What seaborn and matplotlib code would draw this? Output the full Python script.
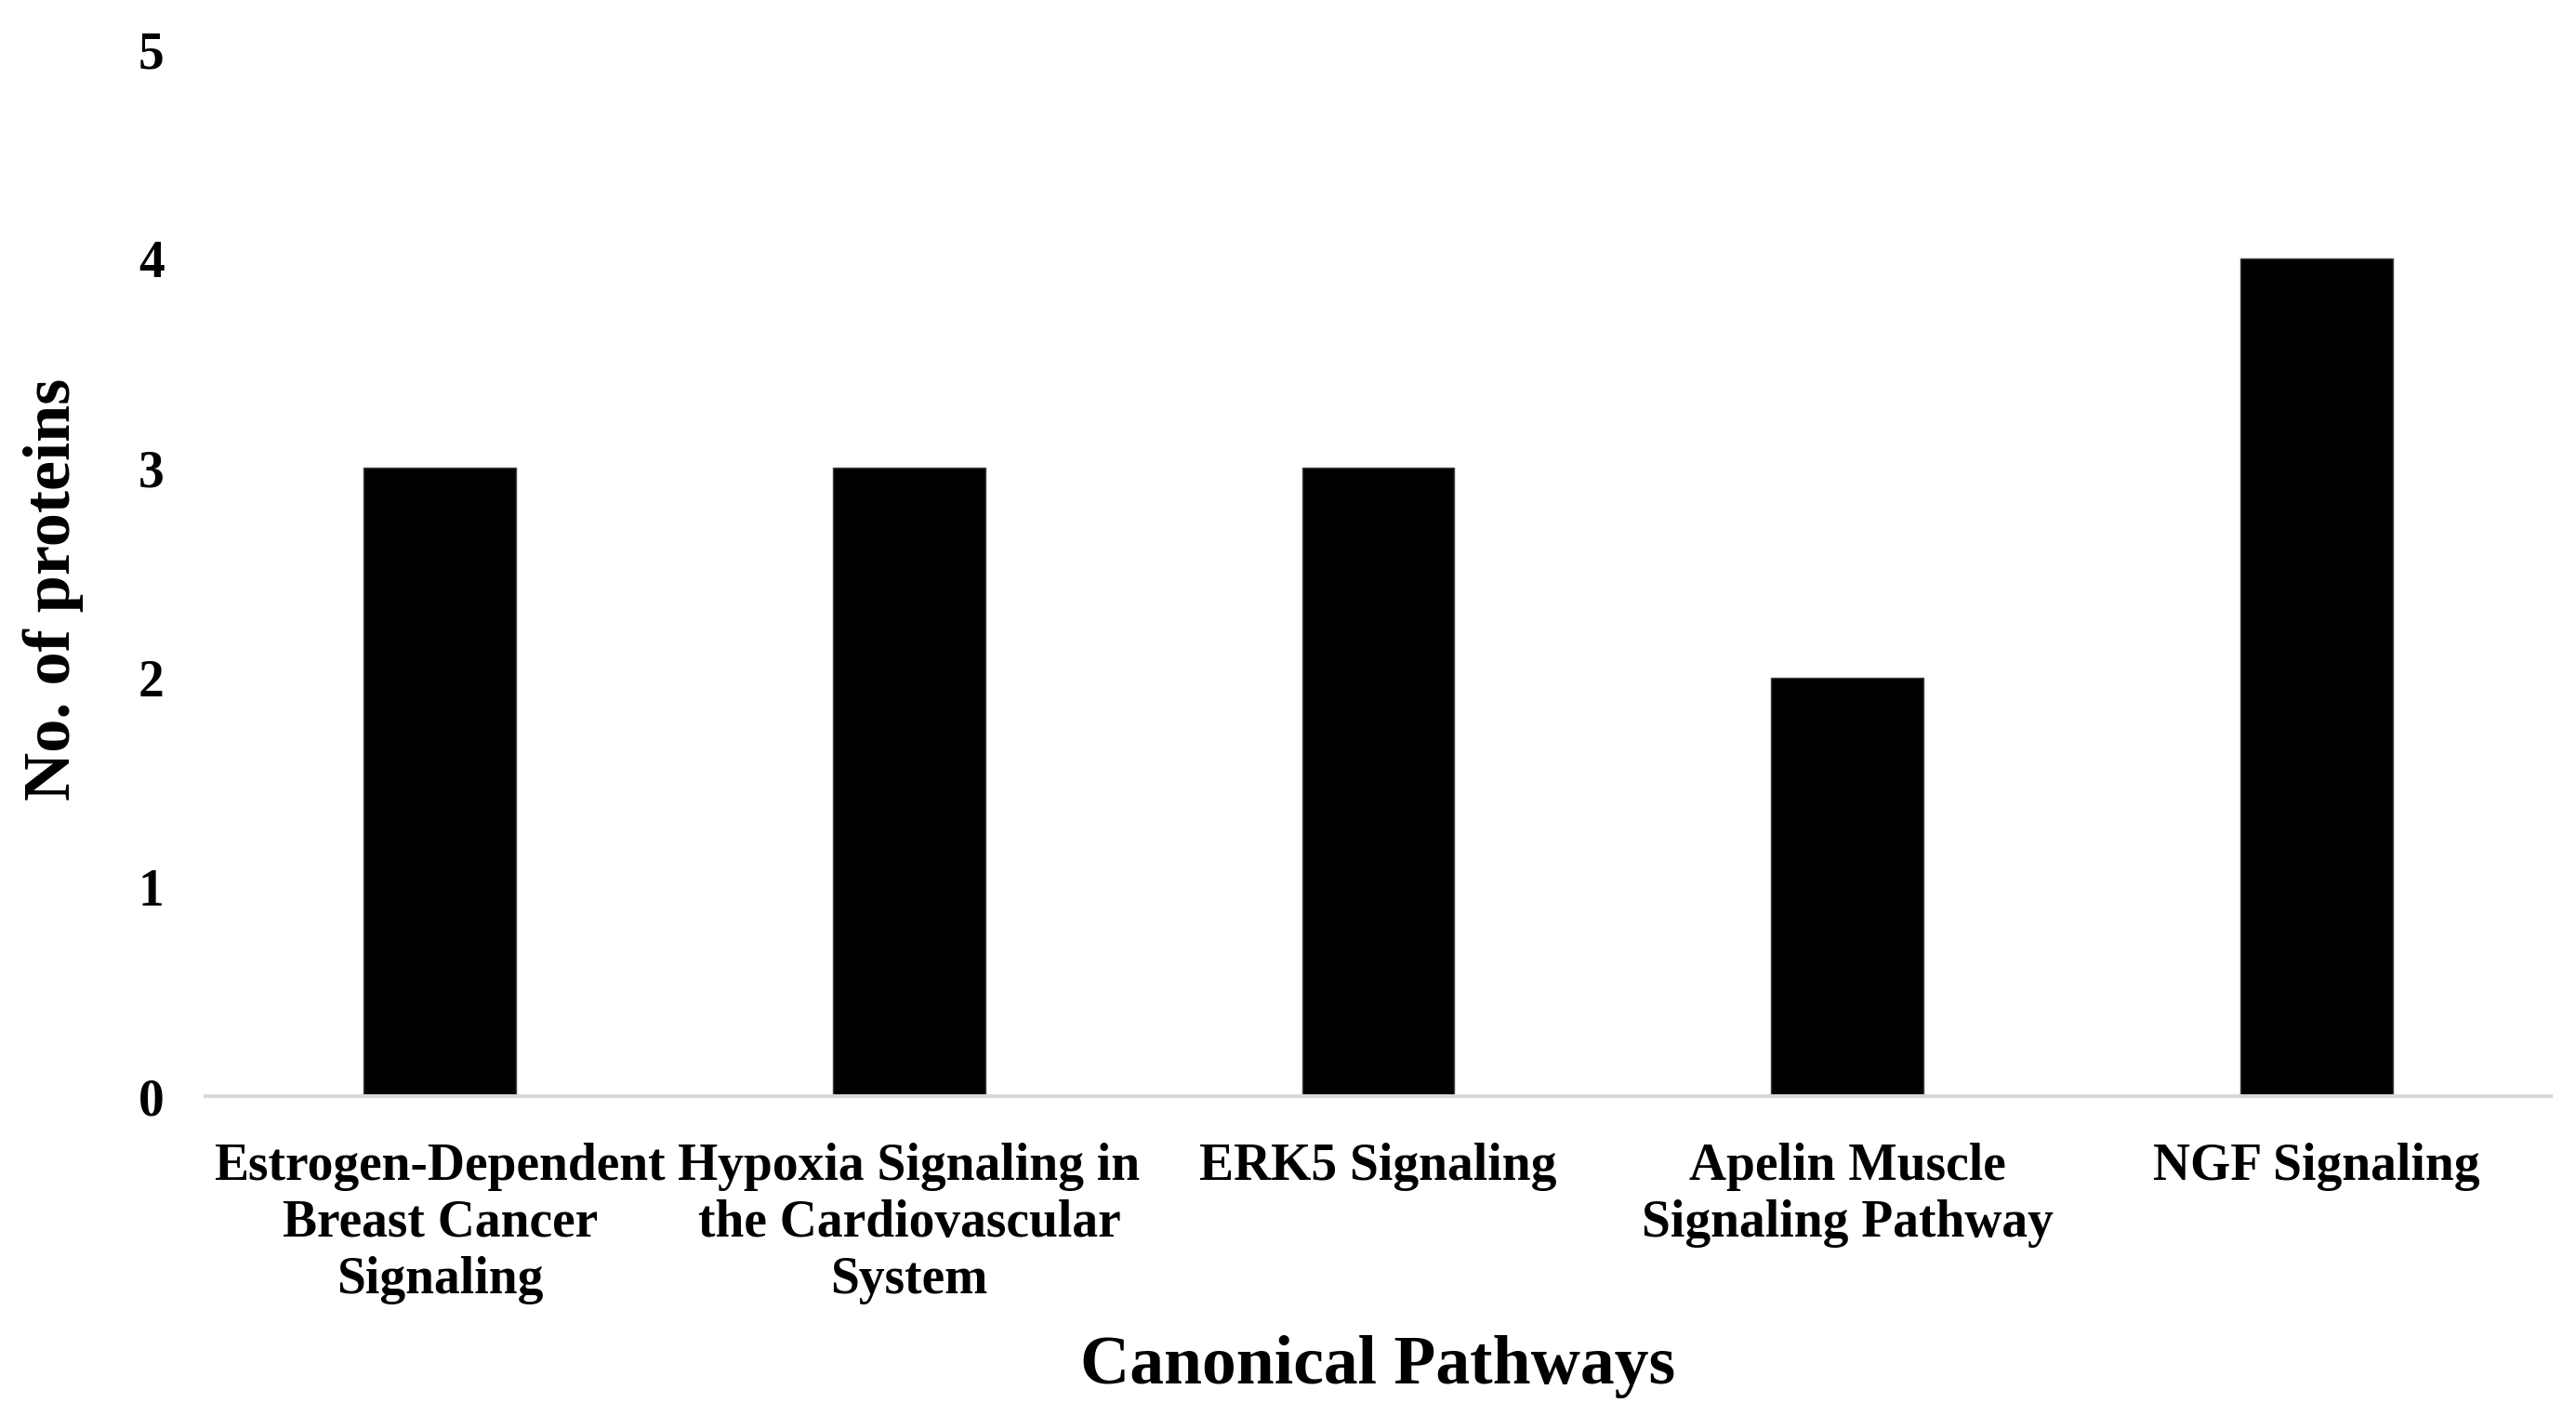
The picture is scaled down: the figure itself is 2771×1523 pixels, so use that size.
import pandas as pd
import seaborn as sns
import matplotlib.pyplot as plt

pathways = [
    "Estrogen-Dependent\nBreast Cancer\nSignaling",
    "Hypoxia Signaling in\nthe Cardiovascular\nSystem",
    "ERK5 Signaling",
    "Apelin Muscle\nSignaling Pathway",
    "NGF Signaling",
]
n_proteins = [3, 3, 3, 2, 4]

df = pd.DataFrame({'Pathway': pathways, 'Count': n_proteins})

sns.set_style('white')
plt.rcParams['font.family'] = ['Liberation Serif', 'DejaVu Serif']
plt.rcParams['font.weight'] = 'bold'
plt.rcParams['text.color'] = 'black'
plt.rcParams['xtick.color'] = 'black'
plt.rcParams['ytick.color'] = 'black'

fig = plt.figure(figsize=(27.71, 15.23), dpi=100)
ax = fig.add_axes([221 / 2771, 1 - 1179 / 1523, (2744 - 221) / 2771, (1179 - 53) / 1523])

sns.barplot(data=df, x='Pathway', y='Count', color='black', width=0.325,
            saturation=1, edgecolor='#404040', linewidth=1, ax=ax)

ax.set_xlim(-0.5, 4.5)
ax.set_ylim(0, 5)
ax.set_yticks(range(0, 6))

for side in ['top', 'right', 'left']:
    ax.spines[side].set_visible(False)
ax.spines['bottom'].set_color('#d9d9d9')
ax.spines['bottom'].set_linewidth(3)

ax.tick_params(axis='both', length=0, labelsize=40, labelcolor='black')
ax.tick_params(axis='x', pad=36)
ax.tick_params(axis='y', pad=32)
for lab in ax.get_xticklabels() + ax.get_yticklabels():
    lab.set_fontweight('bold')
for lab in ax.get_xticklabels():
    lab.set_linespacing(1.22)

ax.set_xlabel("Canonical Pathways", fontsize=53, fontweight='bold', color='black')
ax.xaxis.set_label_coords(0.5, -0.228)
ax.set_ylabel("No. of proteins", fontsize=52, fontweight='bold', color='black')
ax.yaxis.set_label_coords(-0.052, 0.484)

fig.savefig('out.png', dpi=100)
plt.close()
